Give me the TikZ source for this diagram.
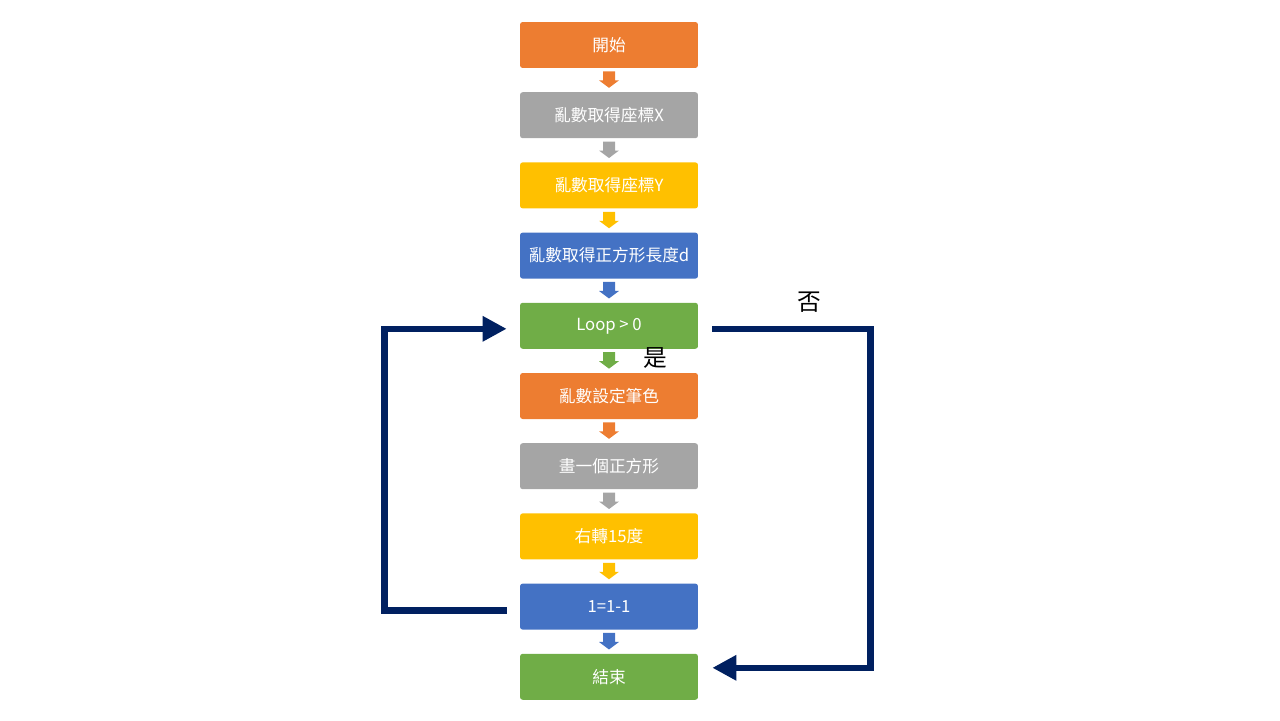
\documentclass[tikz,border=0pt]{standalone}
\usepackage{fontspec}
\setmainfont{Noto Sans CJK TC}
\usetikzlibrary{calc,arrows.meta}
\definecolor{orng}{HTML}{ED7D31}
\definecolor{gry}{HTML}{A5A5A5}
\definecolor{ylw}{HTML}{FFC000}
\definecolor{blu}{HTML}{4472C4}
\definecolor{grn}{HTML}{70AD47}
\definecolor{navy}{HTML}{002060}

\begin{document}
\begin{tikzpicture}[x=0.02cm,y=-0.02cm,
  box/.style={fill=#1, rounded corners=1.5pt, minimum width=3.56cm, minimum height=0.92cm,
    inner sep=0pt, text=white, font=\fontsize{9.5}{11}\selectfont},
  loopline/.style={navy, line width=0.13cm, -{Triangle[length=4.8mm,width=4.8mm]}},
  lbl/.style={font=\fontsize{13.5}{15}\selectfont}]
\useasboundingbox (0,0) rectangle (1280,720);

% the steps
\foreach \n/\c/\t in {1/orng/開始, 2/gry/亂數取得座標X, 3/ylw/亂數取得座標Y,
  4/blu/亂數取得正方形長度d, 5/grn/Loop > 0, 6/orng/亂數設定筆色,
  7/gry/畫一個正方形, 8/ylw/右轉15度, 9/blu/1=1-1, 10/grn/結束} {
\node[box=\c] (b\n) at (609,{45+70.2*(\n-1)}) {\t};
}

% block arrows between the steps
\foreach \i/\c in {1/orng,2/gry,3/ylw,4/blu,5/grn,6/orng,7/gry,8/ylw,9/blu} {
\pgfmathtruncatemacro\j{\i+1}
\fill[\c] ($(b\i.south)+(-6,3)$) -- ++(12,0) -- ++(0,9) -- ++(4,0)
  -- ($(b\j.north)+(0,-4)$) -- ($(b\i.south)+(-10,12)$) -- ++(4,0) -- cycle;
}

% loop back and exit
\draw[loopline] ($(b9.west)+(-13,4)$) -| ($(b5.west)+(-135,3)$) -- ($(b5.west)+(-13,3)$);
\draw[loopline] ($(b5.east)+(14,3)$) -| ($(b10.east)+(172,-9)$) -- ($(b10.east)+(14,-9)$);

\node[lbl] (no) at (809,302) {否};
\node[lbl] (yes) at (655,358) {是};
\end{tikzpicture}
\end{document}
